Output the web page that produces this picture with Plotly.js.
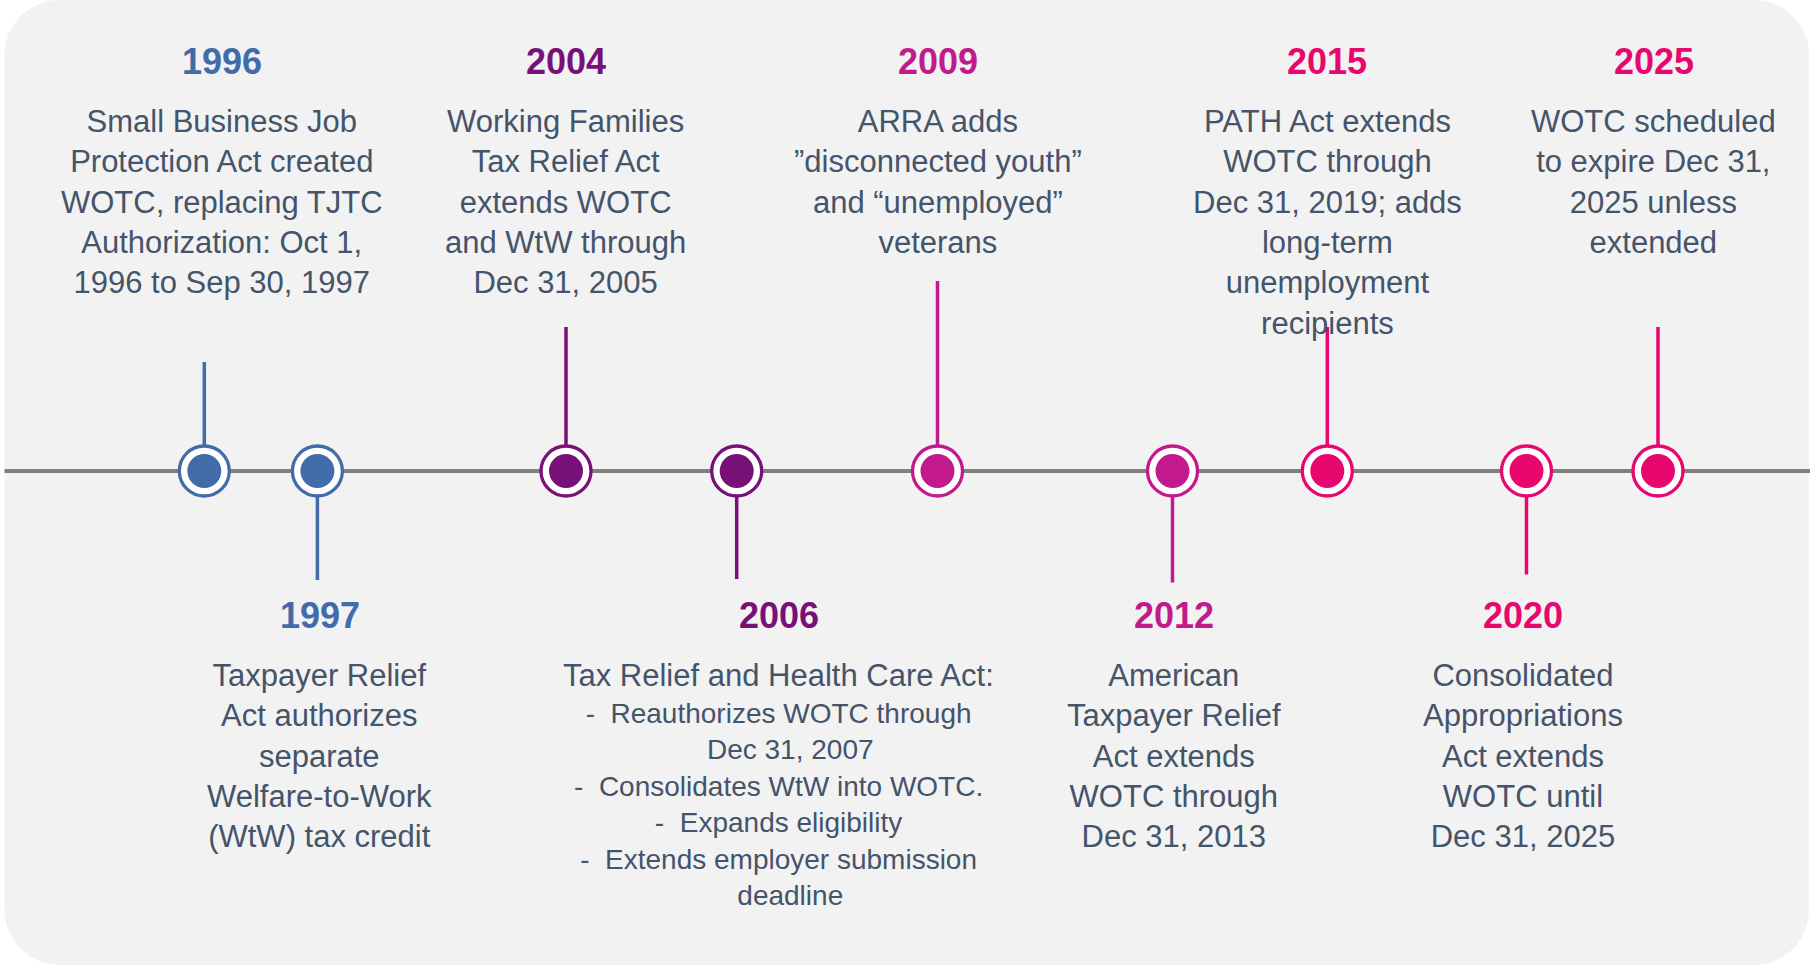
<!DOCTYPE html>
<html>
<head>
<meta charset="utf-8">
<script src="https://cdn.plot.ly/plotly-3.0.1.min.js"></script>
<style>
  html, body { margin: 0; padding: 0; background: #ffffff; }
  #chart { width: 1810px; height: 966px; }
</style>
</head>
<body>
<div id="chart"></div>
<script>
// ---------- DATA ----------
const years = ['1996', '1997', '2004', '2006', '2009', '2012', '2015', '2020', '2025'];
const sides = ['above', 'below', 'above', 'below', 'above', 'below', 'above', 'below', 'above'];
const descriptions = [
  ['Small Business Job', 'Protection Act created', 'WOTC, replacing TJTC', 'Authorization: Oct 1,', '1996 to Sep 30, 1997'],
  ['Taxpayer Relief', 'Act authorizes', 'separate', 'Welfare-to-Work', '(WtW) tax credit'],
  ['Working Families', 'Tax Relief Act', 'extends WOTC', 'and WtW through', 'Dec 31, 2005'],
  ['Tax Relief and Health Care Act:'],
  ['ARRA adds', '\u201Ddisconnected youth\u201D', 'and \u201Cunemployed\u201D', 'veterans'],
  ['American', 'Taxpayer Relief', 'Act extends', 'WOTC through', 'Dec 31, 2013'],
  ['PATH Act extends', 'WOTC through', 'Dec 31, 2019; adds', 'long-term', 'unemployment', 'recipients'],
  ['Consolidated', 'Appropriations', 'Act extends', 'WOTC until', 'Dec 31, 2025'],
  ['WOTC scheduled', 'to expire Dec 31,', '2025 unless', 'extended']
];
// bullet list attached to the 2006 event (items; continuation lines separate)
const bullets2006 = [
  ['Reauthorizes WOTC through', 'Dec 31, 2007'],
  ['Consolidates WtW into WOTC.'],
  ['Expands eligibility'],
  ['Extends employer submission', 'deadline']
];

// ---------- LAYOUT / STYLE ----------
const W = 1810, H = 966;
const axisZero = 471;                 // pixel row of the timeline
const slotX  = [204.3, 317.4, 566, 736.7, 937.5, 1172.5, 1327.3, 1526.5, 1658];
const labelX = [221.5, 319.5, 565.6, 778.5, 937.7, 1174, 1327, 1523, 1653.6];
const stemLen = [109, 109, 144, 108, 190, 111.5, 144, 103.5, 144];
const eventColors = ['#416CA9', '#416CA9', '#771177', '#771177', '#C21A8C', '#C21A8C', '#E8066F', '#E8066F', '#E8066F'];
const textColor = '#44546A';
const FONT = 'Liberation Sans, Arial, Helvetica, sans-serif';

const traces = [];
// stems
for (let i = 0; i < years.length; i++) {
  const dir = sides[i] === 'above' ? 1 : -1;
  traces.push({
    type: 'scatter', mode: 'lines',
    x: [slotX[i], slotX[i]], y: [0, dir * stemLen[i]],
    line: { color: eventColors[i], width: 3.5 },
    hoverinfo: 'skip', showlegend: false
  });
}
// outer rings
traces.push({
  type: 'scatter', mode: 'markers',
  x: slotX, y: years.map(() => 0),
  marker: { symbol: 'circle', size: 50, color: '#ffffff', line: { color: eventColors, width: 3.3 } },
  hoverinfo: 'skip', showlegend: false
});
// inner dots
traces.push({
  type: 'scatter', mode: 'markers',
  x: slotX, y: years.map(() => 0),
  marker: { symbol: 'circle', size: 34, color: eventColors, line: { width: 0 } },
  hoverinfo: 'skip', showlegend: false
});

const toAxis = p => axisZero - p;     // pixel row -> axis units
const annotations = [];
for (let i = 0; i < years.length; i++) {
  const up = sides[i] === 'above';
  annotations.push({
    x: labelX[i], y: toAxis(up ? 61.5 : 615), xref: 'x', yref: 'y',
    text: '<b>' + years[i] + '</b>', showarrow: false,
    xanchor: 'center', yanchor: 'middle',
    font: { family: FONT, size: 36, color: eventColors[i] }
  });
  annotations.push({
    x: labelX[i], y: toAxis(up ? 102 : 656), xref: 'x', yref: 'y',
    text: descriptions[i].join('<br>'), showarrow: false,
    xanchor: 'center', yanchor: 'top', align: 'center',
    font: { family: FONT, size: 31, color: textColor }
  });
}
// 2006 bullet list
const idx2006 = years.indexOf('2006');
const bulletLines = [];
bullets2006.forEach(item => {
  item.forEach((ln, k) => {
    bulletLines.push(k === 0 ? '-\u00a0\u00a0' + ln : '\u00a0\u00a0\u00a0' + ln);
  });
});
annotations.push({
  x: labelX[idx2006], y: toAxis(696), xref: 'x', yref: 'y',
  text: bulletLines.join('<br>'), showarrow: false,
  xanchor: 'center', yanchor: 'top', align: 'center',
  font: { family: FONT, size: 28, color: textColor }
});

// rounded background panel
const L = 4.5, R = 1809, T = toAxis(0), B = toAxis(965), r = 55, k = 0.4477 * r;
const panelPath =
  `M ${L + r},${T} L ${R - r},${T} C ${R - k},${T} ${R},${T - k} ${R},${T - r} ` +
  `L ${R},${B + r} C ${R},${B + k} ${R - k},${B} ${R - r},${B} ` +
  `L ${L + r},${B} C ${L + k},${B} ${L},${B + k} ${L},${B + r} ` +
  `L ${L},${T - r} C ${L},${T - k} ${L + k},${T} ${L + r},${T} Z`;

const layout = {
  width: W, height: H,
  margin: { l: 0, r: 0, t: 0, b: 0, pad: 0 },
  paper_bgcolor: '#ffffff', plot_bgcolor: 'rgba(0,0,0,0)',
  showlegend: false, hovermode: false,
  xaxis: { range: [0, W], visible: false, fixedrange: true },
  yaxis: { range: [axisZero - H, axisZero], visible: false, fixedrange: true, zeroline: false },
  shapes: [
    { type: 'path', xref: 'x', yref: 'y', layer: 'below',
      path: panelPath, fillcolor: '#F2F2F2', line: { width: 0 } },
    { type: 'line', xref: 'x', yref: 'y', layer: 'below',
      x0: L, x1: W, y0: 0, y1: 0, line: { color: '#808080', width: 4 } }
  ],
  annotations: annotations
};

Plotly.newPlot('chart', traces, layout, { staticPlot: true, displayModeBar: false });
</script>
</body>
</html>
